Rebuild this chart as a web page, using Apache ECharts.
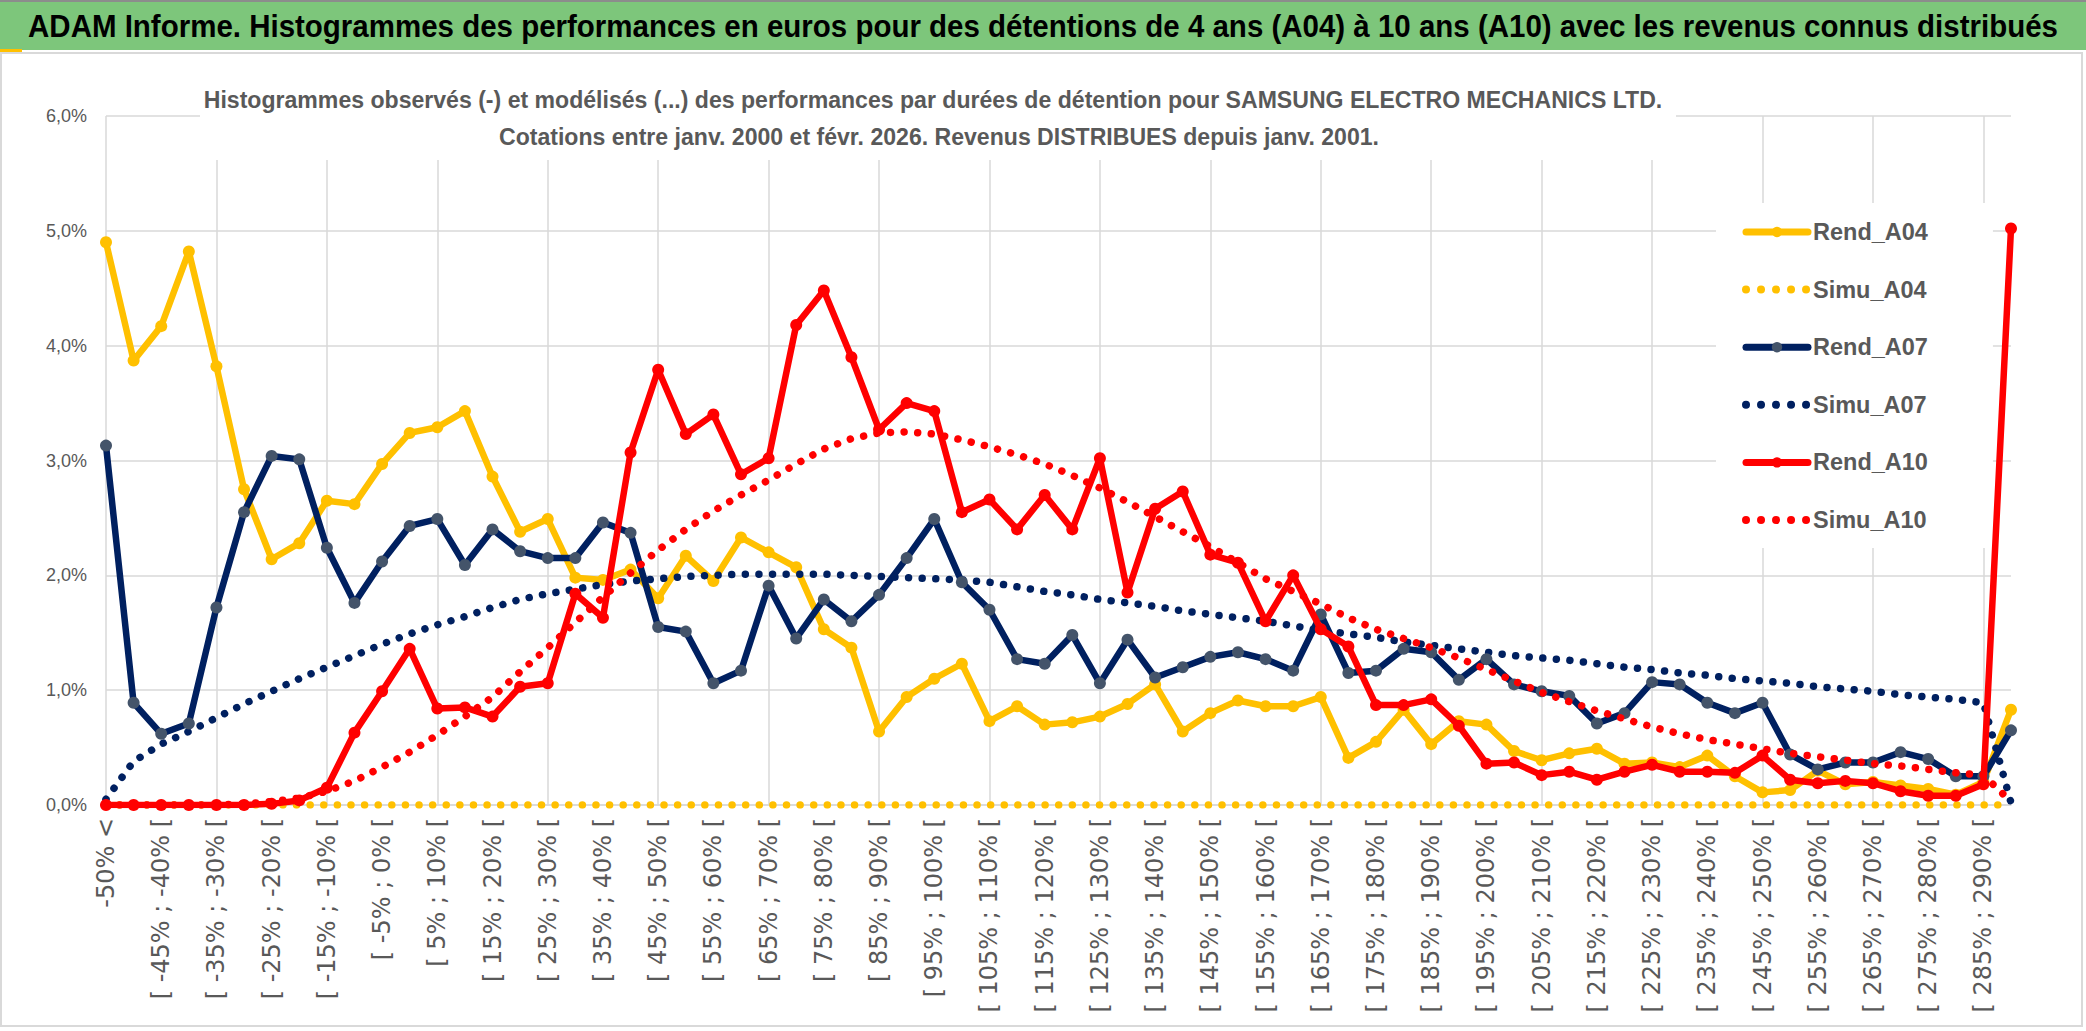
<!DOCTYPE html>
<html>
<head>
<meta charset="utf-8">
<script src="https://cdn.jsdelivr.net/npm/echarts@6/dist/echarts.min.js"></script>
<style>
html,body{margin:0;padding:0;background:#ffffff;}
#chart{width:2086px;height:1031px;}
</style>
</head>
<body>
<div id="chart"></div>
<script>
// ---------- texts ----------
const mainTitle = "ADAM Informe. Histogrammes des performances en euros pour des détentions de 4 ans (A04) à 10 ans (A10) avec les revenus connus distribués";
const subTitle1 = "Histogrammes observés (-) et modélisés (...) des performances par durées de détention pour SAMSUNG ELECTRO MECHANICS LTD.";
const subTitle2 = "Cotations entre janv. 2000 et févr. 2026. Revenus DISTRIBUES depuis janv. 2001.";

// ---------- categories ----------
const categories = [
  "-50% <",
  "[ -50% ; -45% [", "[ -45% ; -40% [", "[ -40% ; -35% [", "[ -35% ; -30% [",
  "[ -30% ; -25% [", "[ -25% ; -20% [", "[ -20% ; -15% [", "[ -15% ; -10% [",
  "[ -10% ; -5% [", "[ -5% ; 0% [", "[ 0% ; 5% [", "[ 5% ; 10% [",
  "[ 10% ; 15% [", "[ 15% ; 20% [", "[ 20% ; 25% [", "[ 25% ; 30% [",
  "[ 30% ; 35% [", "[ 35% ; 40% [", "[ 40% ; 45% [", "[ 45% ; 50% [",
  "[ 50% ; 55% [", "[ 55% ; 60% [", "[ 60% ; 65% [", "[ 65% ; 70% [",
  "[ 70% ; 75% [", "[ 75% ; 80% [", "[ 80% ; 85% [", "[ 85% ; 90% [",
  "[ 90% ; 95% [", "[ 95% ; 100% [", "[ 100% ; 105% [", "[ 105% ; 110% [",
  "[ 110% ; 115% [", "[ 115% ; 120% [", "[ 120% ; 125% [", "[ 125% ; 130% [",
  "[ 130% ; 135% [", "[ 135% ; 140% [", "[ 140% ; 145% [", "[ 145% ; 150% [",
  "[ 150% ; 155% [", "[ 155% ; 160% [", "[ 160% ; 165% [", "[ 165% ; 170% [",
  "[ 170% ; 175% [", "[ 175% ; 180% [", "[ 180% ; 185% [", "[ 185% ; 190% [",
  "[ 190% ; 195% [", "[ 195% ; 200% [", "[ 200% ; 205% [", "[ 205% ; 210% [",
  "[ 210% ; 215% [", "[ 215% ; 220% [", "[ 220% ; 225% [", "[ 225% ; 230% [",
  "[ 230% ; 235% [", "[ 235% ; 240% [", "[ 240% ; 245% [", "[ 245% ; 250% [",
  "[ 250% ; 255% [", "[ 255% ; 260% [", "[ 260% ; 265% [", "[ 265% ; 270% [",
  "[ 270% ; 275% [", "[ 275% ; 280% [", "[ 280% ; 285% [", "[ 285% ; 290% [",
  "> 290%"
];

// ---------- y tick labels (value in % units -> label) ----------
const yTickValues = [0, 1, 2, 3, 4, 5, 6];
const yTickLabels = ["0,0%", "1,0%", "2,0%", "3,0%", "4,0%", "5,0%", "6,0%"];

// ---------- series names ----------
const seriesNames = ["Rend_A04", "Simu_A04", "Rend_A07", "Simu_A07", "Rend_A10", "Simu_A10"];

// ---------- series values (percent) ----------
const rendA04 = [
  4.90, 3.87, 4.17, 4.82, 3.82, 2.75, 2.14, 2.28, 2.65, 2.62,
  2.97, 3.24, 3.29, 3.43, 2.86, 2.38, 2.49, 1.98, 1.96, 2.05,
  1.80, 2.17, 1.95, 2.33, 2.20, 2.07, 1.53, 1.37, 0.64, 0.94,
  1.10, 1.23, 0.73, 0.86, 0.70, 0.72, 0.77, 0.88, 1.05, 0.64,
  0.80, 0.91, 0.86, 0.86, 0.94, 0.41, 0.55, 0.83, 0.53, 0.73,
  0.70, 0.47, 0.39, 0.45, 0.49, 0.36, 0.37, 0.33, 0.43, 0.25,
  0.11, 0.13, 0.30, 0.18, 0.20, 0.17, 0.14, 0.09, 0.20, 0.83
];
const simuA04 = [
  0, 0, 0, 0, 0, 0, 0, 0, 0, 0,
  0, 0, 0, 0, 0, 0, 0, 0, 0, 0,
  0, 0, 0, 0, 0, 0, 0, 0, 0, 0,
  0, 0, 0, 0, 0, 0, 0, 0, 0, 0,
  0, 0, 0, 0, 0, 0, 0, 0, 0, 0,
  0, 0, 0, 0, 0, 0, 0, 0, 0, 0,
  0, 0, 0, 0, 0, 0, 0, 0, 0, 0
];
const rendA07 = [
  3.13, 0.89, 0.62, 0.71, 1.72, 2.55, 3.04, 3.01, 2.24, 1.76,
  2.12, 2.43, 2.49, 2.09, 2.40, 2.21, 2.15, 2.15, 2.46, 2.37,
  1.55, 1.51, 1.06, 1.17, 1.91, 1.45, 1.79, 1.60, 1.83, 2.15,
  2.49, 1.94, 1.70, 1.27, 1.23, 1.48, 1.06, 1.44, 1.11, 1.20,
  1.29, 1.33, 1.27, 1.17, 1.66, 1.15, 1.17, 1.36, 1.33, 1.09,
  1.27, 1.05, 0.99, 0.95, 0.71, 0.80, 1.07, 1.05, 0.89, 0.80,
  0.89, 0.44, 0.31, 0.37, 0.37, 0.46, 0.40, 0.25, 0.25, 0.65
];
const simuA07 = [
  0.05, 0.38, 0.53, 0.64, 0.76, 0.88, 0.99, 1.10, 1.20, 1.30,
  1.40, 1.49, 1.57, 1.64, 1.72, 1.79, 1.84, 1.88, 1.92, 1.95,
  1.97, 1.99, 2.00, 2.01, 2.01, 2.01, 2.01, 2.00, 1.99, 1.98,
  1.97, 1.96, 1.94, 1.90, 1.86, 1.83, 1.79, 1.76, 1.73, 1.69,
  1.66, 1.63, 1.60, 1.56, 1.52, 1.49, 1.46, 1.42, 1.39, 1.36,
  1.33, 1.30, 1.28, 1.26, 1.23, 1.20, 1.18, 1.15, 1.13, 1.10,
  1.08, 1.06, 1.03, 1.01, 0.99, 0.96, 0.94, 0.92, 0.89, 0.02
];
const rendA10 = [
  0.00, 0.00, 0.00, 0.00, 0.00, 0.00, 0.01, 0.04, 0.15, 0.63,
  0.99, 1.36, 0.84, 0.85, 0.77, 1.03, 1.06, 1.84, 1.63, 3.07,
  3.79, 3.23, 3.40, 2.88, 3.02, 4.18, 4.48, 3.90, 3.27, 3.50,
  3.43, 2.55, 2.66, 2.40, 2.70, 2.40, 3.02, 1.85, 2.58, 2.73,
  2.18, 2.11, 1.60, 2.00, 1.53, 1.38, 0.87, 0.87, 0.92, 0.69,
  0.36, 0.37, 0.26, 0.29, 0.22, 0.29, 0.35, 0.29, 0.29, 0.28,
  0.43, 0.22, 0.19, 0.21, 0.19, 0.12, 0.08, 0.08, 0.18, 5.02
];
const simuA10 = [
  0.00, 0.00, 0.00, 0.00, 0.00, 0.01, 0.03, 0.06, 0.12, 0.21,
  0.33, 0.46, 0.61, 0.77, 0.94, 1.16, 1.37, 1.59, 1.81, 2.02,
  2.22, 2.40, 2.56, 2.70, 2.83, 2.97, 3.10, 3.19, 3.24, 3.25,
  3.23, 3.18, 3.12, 3.05, 2.97, 2.87, 2.76, 2.64, 2.51, 2.38,
  2.25, 2.11, 1.97, 1.86, 1.75, 1.63, 1.53, 1.45, 1.37, 1.28,
  1.18, 1.08, 0.98, 0.90, 0.82, 0.75, 0.68, 0.62, 0.57, 0.53,
  0.49, 0.45, 0.42, 0.39, 0.36, 0.34, 0.31, 0.28, 0.26, 0.03
];

// ---------- styling helpers ----------
const GOLD = '#FFC000', NAVY = '#002060', NAVY_MK = '#44546A', RED = '#FF0000';
const GRID = '#D9D9D9', TXT = '#595959';
const titleFamily = "'Liberation Sans', Arial, sans-serif";
const ctx = document.createElement('canvas').getContext('2d');
function textWidth(text, weight, size, family) {
  ctx.font = weight + ' ' + size + 'px ' + family;
  return ctx.measureText(text).width;
}
const MAIN_FS = 31, SUB_FS = 24;
const mainScale = 2030 / textWidth(mainTitle, 'bold', MAIN_FS, titleFamily);
const subScale = 1459 / textWidth(subTitle1, 'bold', SUB_FS, titleFamily);
const legendSize = 100 * 115 / textWidth('Rend_A04', 'bold', 100, titleFamily);

const LINE_W = 6.5, DOT_W = 7.5, DOT_DASH = [0.01, 13.6];
function rend(name, data, lineColor, markColor, z) {
  return {
    name: name, type: 'line', data: data, z: z,
    symbol: 'circle', symbolSize: 12, showSymbol: true, showAllSymbol: true,
    lineStyle: { color: lineColor, width: LINE_W, cap: 'round', join: 'round' },
    itemStyle: { color: markColor, borderWidth: 0 },
    emphasis: { disabled: true }, animation: false
  };
}
function simu(name, data, color, z) {
  return {
    name: name, type: 'line', data: data, z: z,
    symbol: 'none', showSymbol: false,
    lineStyle: { color: color, width: DOT_W, type: DOT_DASH, cap: 'round', join: 'round' },
    itemStyle: { color: color },
    emphasis: { disabled: true }, animation: false
  };
}
const legendRend = { width: 7, type: 'solid', cap: 'round' };
const legendSimu = { width: 8, type: [0.01, 15], cap: 'round' };

const chart = echarts.init(document.getElementById('chart'), null, { renderer: 'svg' });
const option = {
  backgroundColor: '#ffffff',
  animation: false,
  grid: { left: 106, right: 75, top: 116, bottom: 226, containLabel: false },
  xAxis: {
    type: 'category', data: categories, boundaryGap: false,
    axisLine: { show: true, lineStyle: { color: GRID, width: 1.5 } },
    axisTick: { show: false },
    axisLabel: {
      interval: 1, rotate: 90, margin: 13,
      color: TXT, fontFamily: "'DejaVu Sans', Verdana, sans-serif", fontSize: 24
    },
    splitLine: { show: true, interval: 3, lineStyle: { color: GRID, width: 1.5 } }
  },
  yAxis: {
    type: 'value', min: 0, max: 6, interval: 1,
    axisLine: { show: false }, axisTick: { show: false },
    axisLabel: {
      margin: 19, color: TXT, fontFamily: "'Liberation Sans', Arial, sans-serif", fontSize: 18,
      formatter: function (v) { const i = yTickValues.indexOf(v); return i >= 0 ? yTickLabels[i] : ''; }
    },
    splitLine: { show: true, lineStyle: { color: GRID, width: 1.5 } }
  },
  legend: {
    orient: 'vertical', left: 1716, top: 203,
    padding: [17, 65, 16, 26],
    backgroundColor: '#ffffff',
    itemWidth: 62, itemHeight: 13, itemGap: 33.6,
    selectedMode: false,
    textStyle: { color: TXT, fontWeight: 'bold', fontSize: legendSize, fontFamily: titleFamily, lineHeight: 24 },
    data: [
      { name: seriesNames[0], lineStyle: legendRend },
      { name: seriesNames[1], lineStyle: legendSimu, itemStyle: { opacity: 0 } },
      { name: seriesNames[2], lineStyle: legendRend },
      { name: seriesNames[3], lineStyle: legendSimu, itemStyle: { opacity: 0 } },
      { name: seriesNames[4], lineStyle: legendRend },
      { name: seriesNames[5], lineStyle: legendSimu, itemStyle: { opacity: 0 } }
    ]
  },
  series: [
    rend(seriesNames[0], rendA04, GOLD, GOLD, 2),
    simu(seriesNames[1], simuA04, GOLD, 2),
    rend(seriesNames[2], rendA07, NAVY, NAVY_MK, 3),
    simu(seriesNames[3], simuA07, NAVY, 3),
    rend(seriesNames[4], rendA10, RED, RED, 4),
    simu(seriesNames[5], simuA10, RED, 4)
  ],
  graphic: [
    { type: 'rect', z: 100, silent: true, shape: { x: 0, y: 0, width: 2086, height: 50 }, style: { fill: '#7DC67B' } },
    { type: 'rect', z: 101, silent: true, shape: { x: 0, y: 0, width: 2086, height: 2 }, style: { fill: '#8C8C8C' } },
    { type: 'rect', z: 101, silent: true, shape: { x: 0, y: 49, width: 22, height: 3 }, style: { fill: GOLD } },
    { type: 'rect', z: 100, silent: true, shape: { x: 1, y: 53, width: 2081, height: 973 }, style: { fill: 'none', stroke: GRID, lineWidth: 2 } },
    { type: 'text', z: 102, silent: true, x: 1043, y: 26, scaleX: mainScale,
      style: { text: mainTitle, fill: '#000000', fontWeight: 'bold', fontSize: MAIN_FS, fontFamily: titleFamily, align: 'center', verticalAlign: 'middle' } },
    { type: 'rect', z: 100, silent: true, shape: { x: 200, y: 62, width: 1476, height: 98 }, style: { fill: '#ffffff' } },
    { type: 'text', z: 102, silent: true, x: 933, y: 100, scaleX: subScale,
      style: { text: subTitle1, fill: TXT, fontWeight: 'bold', fontSize: SUB_FS, fontFamily: titleFamily, align: 'center', verticalAlign: 'middle' } },
    { type: 'text', z: 102, silent: true, x: 939, y: 137, scaleX: subScale,
      style: { text: subTitle2, fill: TXT, fontWeight: 'bold', fontSize: SUB_FS, fontFamily: titleFamily, align: 'center', verticalAlign: 'middle' } }
  ]
};
chart.setOption(option);
</script>
</body>
</html>
